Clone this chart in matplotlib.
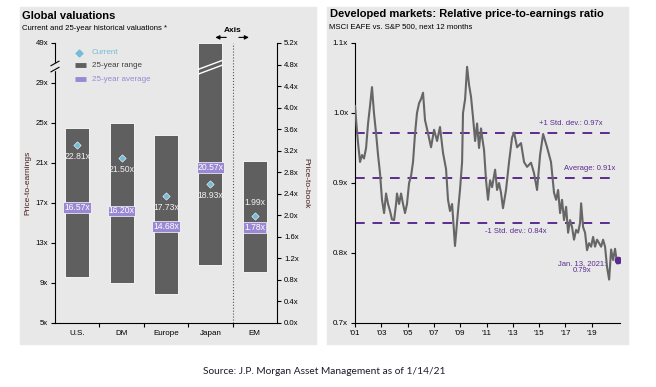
import matplotlib
matplotlib.use('Agg')
import matplotlib.pyplot as plt
import matplotlib.transforms as mtransforms
from matplotlib.patches import Rectangle
import numpy as np

plt.rcParams['font.family'] = ['Liberation Sans', 'DejaVu Sans']

# ---- Global valuations data ----
regions = ['U.S.', 'DM', 'Europe', 'Japan', 'EM']
pe_high = [24.5, 25.0, 23.8, 49.0]
pe_low = [9.6, 9.0, 7.9, 10.8]
pe_current = [22.81, 21.50, 17.73, 18.93]
pe_average = [16.57, 16.20, 14.68, 20.57]
em_pb_high = 3.0
em_pb_low = 0.95
em_pb_current = 1.99
em_pb_average = 1.78
pe_ticks = [5, 9, 13, 17, 21, 25, 29, 49]
pb_ticks = np.arange(0, 5.21, 0.4)

# ---- Relative P/E data (MSCI EAFE vs S&P 500) ----
years = [2001.00, 2001.08, 2001.23, 2001.38, 2001.53, 2001.68, 2001.84, 2001.99,
         2002.14, 2002.29, 2002.44, 2002.60, 2002.75, 2002.90, 2003.05, 2003.21,
         2003.36, 2003.51, 2003.66, 2003.81, 2003.97, 2004.12, 2004.19, 2004.35,
         2004.50, 2004.65, 2004.80, 2004.95, 2005.11, 2005.26, 2005.41, 2005.56,
         2005.71, 2005.87, 2006.02, 2006.17, 2006.32, 2006.55, 2006.78, 2007.01,
         2007.24, 2007.46, 2007.69, 2007.92, 2008.07, 2008.22, 2008.38, 2008.60,
         2008.83, 2008.98, 2009.14, 2009.21, 2009.37, 2009.52, 2009.67, 2009.82,
         2009.97, 2010.13, 2010.28, 2010.43, 2010.58, 2010.66, 2010.81, 2010.96,
         2011.11, 2011.27, 2011.42, 2011.65, 2011.80, 2011.95, 2012.10, 2012.25,
         2012.48, 2012.71, 2012.94, 2013.09, 2013.32, 2013.62, 2013.85, 2014.08,
         2014.38, 2014.61, 2014.84, 2015.07, 2015.30, 2015.60, 2015.90, 2016.13,
         2016.29, 2016.44, 2016.59, 2016.74, 2016.89, 2017.05, 2017.20, 2017.35,
         2017.50, 2017.65, 2017.81, 2017.96, 2018.11, 2018.19, 2018.34, 2018.49,
         2018.64, 2018.79, 2018.95, 2019.10, 2019.25, 2019.40, 2019.56, 2019.71,
         2019.86, 2020.01, 2020.16, 2020.32, 2020.47, 2020.62, 2020.77, 2020.92,
         2021.03]
rel_pe = [1.010, 0.990, 0.957, 0.930, 0.940, 0.935, 0.950, 0.985,
          1.010, 1.037, 1.000, 0.971, 0.940, 0.914, 0.876, 0.857,
          0.885, 0.870, 0.860, 0.848, 0.847, 0.870, 0.885, 0.870,
          0.885, 0.870, 0.857, 0.870, 0.900, 0.910, 0.930, 0.970,
          1.000, 1.014, 1.020, 1.029, 0.990, 0.971, 0.951, 0.976,
          0.960, 0.980, 0.943, 0.920, 0.876, 0.860, 0.870, 0.810,
          0.860, 0.890, 0.930, 1.000, 1.020, 1.066, 1.040, 1.023,
          0.994, 0.960, 0.985, 0.950, 0.978, 0.966, 0.947, 0.904,
          0.876, 0.904, 0.894, 0.919, 0.890, 0.900, 0.886, 0.864,
          0.890, 0.930, 0.965, 0.972, 0.951, 0.957, 0.930, 0.923,
          0.929, 0.914, 0.890, 0.940, 0.970, 0.951, 0.930, 0.886,
          0.876, 0.890, 0.857, 0.876, 0.847, 0.866, 0.829, 0.847,
          0.837, 0.819, 0.833, 0.829, 0.843, 0.871, 0.837, 0.829,
          0.804, 0.814, 0.809, 0.823, 0.809, 0.819, 0.814, 0.809,
          0.819, 0.809, 0.780, 0.762, 0.805, 0.790, 0.806, 0.785,
          0.790]
std_levels = [0.971, 0.907, 0.843]
std_labels = ['+1 Std. dev.: 0.97x', 'Average: 0.91x', '-1 Std. dev.: 0.84x']
x_ticks = list(range(2001, 2020, 2))
x_labels = ["'%02d" % (y % 100) for y in x_ticks]
rel_ticks = [0.7, 0.8, 0.9, 1.0, 1.1]

BAR = '#5f5f5f'
CUR = '#74bcd8'
AVG = '#9a88d4'
PURPLE = '#5b2c8f'
PANEL = '#e8e8e8'

fig = plt.figure(figsize=(6.56, 3.87), dpi=100)
fig.patches.append(Rectangle((0.0305, 0.1111), 0.4512, 0.8708, transform=fig.transFigure,
                             color=PANEL, zorder=-10))
fig.patches.append(Rectangle((0.4985, 0.1111), 0.4588, 0.8708, transform=fig.transFigure,
                             color=PANEL, zorder=-10))

# ================= Left panel =================
fig.text(0.034, 0.951, 'Global valuations', fontsize=8, fontweight='bold')
fig.text(0.034, 0.923, 'Current and 25-year historical valuations *', fontsize=5.6)


def fwd(v):
    v = np.asarray(v, dtype=float)
    return np.where(v <= 29, v, 29 + (v - 29) * 0.2)


def inv(v):
    v = np.asarray(v, dtype=float)
    return np.where(v <= 29, v, 29 + (v - 29) * 5)


ax = fig.add_axes([0.0838, 0.1654, 0.3384, 0.7235])
ax.set_facecolor('none')
ax.set_yscale('function', functions=(fwd, inv))
ax.set_ylim(5, 49)
ax.set_xlim(-0.5, 4.5)
w = 0.54
xs = np.arange(4)
ax.bar(xs, np.array(pe_high) - np.array(pe_low), bottom=pe_low, width=w,
       color=BAR, edgecolor='white', linewidth=0.6, zorder=2)
ax.scatter(xs, pe_current, marker='D', s=14, color=CUR, edgecolor='white',
           linewidth=0.4, zorder=4)
for x, c, a in zip(xs, pe_current, pe_average):
    ax.text(x, c - 1.2, f'{c:.2f}x', ha='center', va='center', fontsize=6.2,
            color='#f2f2f2', zorder=5)
    ax.text(x, a, f'{a:.2f}x', ha='center', va='center', fontsize=6.2, color='white',
            zorder=5, bbox=dict(boxstyle='square,pad=0.1', fc=AVG, ec='white', lw=0.5))

ax.set_yticks(pe_ticks)
ax.set_yticklabels([f'{t}x' for t in pe_ticks])
ax.set_xticks(range(5))
ax.set_xticklabels(regions)
ax.set_xticks([0.5, 1.5, 2.5, 3.5], minor=True)
ax.tick_params(axis='x', which='major', length=0, labelsize=5.8, pad=5)
ax.tick_params(axis='x', which='minor', length=3, width=0.8)
ax.tick_params(axis='y', length=3, width=0.8, labelsize=5.6, pad=2)
ax.yaxis.set_minor_locator(plt.NullLocator())
for s in ['top', 'right']:
    ax.spines[s].set_visible(False)
ax.set_ylabel('Price-to-earnings', fontsize=6, color='#4a2020', labelpad=3)

ax.axvline(3.5, color='#555555', ls=':', lw=0.8, zorder=1)

# break marks
bt = mtransforms.blended_transform_factory(ax.transData, ax.transAxes)
ax.plot([2.73, 3.27], [0.906, 0.938], transform=bt, color='white', lw=1.0, zorder=3)
ax.plot([2.73, 3.27], [0.889, 0.921], transform=bt, color='white', lw=1.0, zorder=3)
ax.add_patch(Rectangle((-0.01, 0.905), 0.02, 0.022, transform=ax.transAxes,
                       color=PANEL, clip_on=False, zorder=6))
for yb in (0.905, 0.927):
    ax.plot([-0.018, 0.018], [yb - 0.008, yb + 0.008], transform=ax.transAxes,
            color='black', lw=0.8, clip_on=False, zorder=7)

# Axis arrows
ax.text(3.5, 1.046, 'Axis', transform=bt, ha='center', va='center', fontsize=6,
        fontweight='bold')
ax.annotate('', xy=(3.05, 1.02), xytext=(3.42, 1.02), xycoords=bt, textcoords=bt,
            arrowprops=dict(arrowstyle='-|>', color='black', lw=0.8, mutation_scale=6))
ax.annotate('', xy=(3.93, 1.02), xytext=(3.58, 1.02), xycoords=bt, textcoords=bt,
            arrowprops=dict(arrowstyle='-|>', color='black', lw=0.8, mutation_scale=6))

# legend
at = ax.transAxes
ax.scatter([0.11], [0.966], marker='D', s=12, color=CUR, transform=at, zorder=5)
ax.text(0.165, 0.966, 'Current', transform=at, fontsize=5.8, color=CUR, va='center')
ax.plot([0.09, 0.14], [0.921, 0.921], transform=at, color=BAR, lw=3.5, solid_capstyle='butt')
ax.text(0.165, 0.921, '25-year range', transform=at, fontsize=5.8, color='#404040', va='center')
ax.plot([0.09, 0.14], [0.871, 0.871], transform=at, color=AVG, lw=3.5, solid_capstyle='butt')
ax.text(0.165, 0.871, '25-year average', transform=at, fontsize=5.8, color=AVG, va='center')

# EM on price-to-book axis
ax2 = ax.twinx()
ax2.set_facecolor('none')
ax2.set_ylim(0, 5.2)
ax2.bar([4], [em_pb_high - em_pb_low], bottom=[em_pb_low], width=w, color=BAR,
        edgecolor='white', linewidth=0.6, zorder=2)
ax2.scatter([4], [em_pb_current], marker='D', s=14, color=CUR, edgecolor='white',
            linewidth=0.4, zorder=4)
ax2.text(4, em_pb_current + 0.25, f'{em_pb_current:.2f}x', ha='center', va='center',
         fontsize=6.2, color='#f2f2f2', zorder=5)
ax2.text(4, em_pb_average, f'{em_pb_average:.2f}x', ha='center', va='center', fontsize=6.2,
         color='white', zorder=5,
         bbox=dict(boxstyle='square,pad=0.1', fc=AVG, ec='white', lw=0.5))
ax2.set_yticks(pb_ticks)
ax2.set_yticklabels([f'{t:.1f}x' for t in pb_ticks])
ax2.tick_params(axis='y', length=3, width=0.8, labelsize=5.6, pad=2)
for s in ['top', 'left', 'bottom']:
    ax2.spines[s].set_visible(False)
ax2.set_ylabel('Price-to-book', fontsize=6, color='#4a2020', rotation=-90, labelpad=8)

# ================= Right panel =================
fig.text(0.503, 0.955, 'Developed markets: Relative price-to-earnings ratio',
         fontsize=8, fontweight='bold')
fig.text(0.502, 0.927, 'MSCI EAFE vs. S&P 500, next 12 months', fontsize=5.6)

ax3 = fig.add_axes([0.5412, 0.1654, 0.404, 0.7235])
ax3.set_facecolor('none')
ax3.set_xlim(2001, 2021.15)
ax3.set_ylim(0.7, 1.1)
ax3.plot(years, rel_pe, color='#666666', lw=1.5, zorder=3)
for lvl in std_levels:
    ax3.hlines(lvl, 2001, 2020.6, colors=PURPLE, linestyles=(0, (5, 4)), lw=1.4, zorder=2)
ax3.text(2019.8, 0.985, std_labels[0], ha='right', va='center', fontsize=5.5, color=PURPLE)
ax3.text(2020.8, 0.920, std_labels[1], ha='right', va='center', fontsize=5.5, color=PURPLE)
ax3.text(2013.2, 0.830, std_labels[2], ha='center', va='center', fontsize=5.5, color=PURPLE)
ax3.scatter([years[-1]], [rel_pe[-1]], s=20, marker='o', color=PURPLE, zorder=5)
ax3.text(2018.25, 0.780, 'Jan. 13, 2021:\n0.79x', ha='center', va='center', fontsize=5.5,
         color=PURPLE, linespacing=0.95)
ax3.set_xticks(x_ticks)
ax3.set_xticklabels(x_labels)
ax3.set_yticks(rel_ticks)
ax3.set_yticklabels([f'{t:.1f}x' for t in rel_ticks])
ax3.tick_params(axis='both', length=3, width=0.8, labelsize=5.8, pad=2)
for s in ['top', 'right']:
    ax3.spines[s].set_visible(False)

fig.text(0.494, 0.039, 'Source: J.P. Morgan Asset Management as of 1/14/21',
         ha='center', va='center', fontsize=7.3, family=['Lato', 'DejaVu Sans'],
         color='#1a1a2a')

fig.savefig('out.png', dpi=100)
